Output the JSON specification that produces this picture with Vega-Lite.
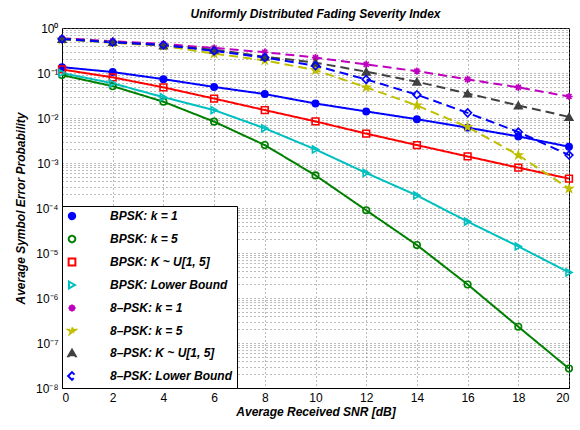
{
  "$schema": "https://vega.github.io/schema/vega-lite/v6.json",
  "autosize": {"type": "none"},
  "width": 507,
  "height": 360,
  "padding": {"left": 62, "top": 28, "right": 11, "bottom": 42},
  "background": "white",
  "title": {"text": "Uniformly Distributed Fading Severity Index", "font": "Liberation Sans", "fontSize": 12, "fontStyle": "italic", "fontWeight": "bold", "offset": 1, "color": "black"},
  "config": {
    "view": {"stroke": "black", "strokeWidth": 1},
    "axis": {"labelFont": "Liberation Sans", "labelFontSize": 12, "labelColor": "black", "titleFont": "Liberation Sans", "titleFontSize": 12, "titleFontStyle": "italic", "titleFontWeight": "bold", "titleColor": "black", "domainColor": "black", "ticks": false, "grid": true, "gridColor": "#777", "gridDash": [1, 3], "gridWidth": 1, "gridOpacity": 1},
    "legend": {"orient": "bottom-left", "offset": 0, "padding": 4, "strokeColor": "black", "fillColor": "white", "labelFont": "Liberation Sans", "labelFontSize": 12, "labelFontWeight": "bold", "labelFontStyle": "italic", "labelColor": "black", "symbolSize": 400, "symbolStrokeWidth": 2, "labelOffset": 32, "rowPadding": 7, "labelLimit": 300}
  },
  "data": {"values": [
    {"x":0,"y":0.135,"s":"BPSK: k = 1"},{"x":2,"y":0.105,"s":"BPSK: k = 1"},{"x":4,"y":0.073,"s":"BPSK: k = 1"},{"x":6,"y":0.049,"s":"BPSK: k = 1"},{"x":8,"y":0.034,"s":"BPSK: k = 1"},{"x":10,"y":0.021,"s":"BPSK: k = 1"},{"x":12,"y":0.014,"s":"BPSK: k = 1"},{"x":14,"y":0.0094,"s":"BPSK: k = 1"},{"x":16,"y":0.0061,"s":"BPSK: k = 1"},{"x":18,"y":0.0039,"s":"BPSK: k = 1"},{"x":20,"y":0.0023,"s":"BPSK: k = 1"},
    {"x":0,"y":0.09,"s":"BPSK: k = 5"},{"x":2,"y":0.051,"s":"BPSK: k = 5"},{"x":4,"y":0.023,"s":"BPSK: k = 5"},{"x":6,"y":0.0083,"s":"BPSK: k = 5"},{"x":8,"y":0.0025,"s":"BPSK: k = 5"},{"x":10,"y":0.00053,"s":"BPSK: k = 5"},{"x":12,"y":0.000089,"s":"BPSK: k = 5"},{"x":14,"y":0.000015,"s":"BPSK: k = 5"},{"x":16,"y":0.000002,"s":"BPSK: k = 5"},{"x":18,"y":2.3e-7,"s":"BPSK: k = 5"},{"x":20,"y":2.7e-8,"s":"BPSK: k = 5"},
    {"x":0,"y":0.12,"s":"BPSK: K ~ U[1, 5]"},{"x":2,"y":0.08,"s":"BPSK: K ~ U[1, 5]"},{"x":4,"y":0.048,"s":"BPSK: K ~ U[1, 5]"},{"x":6,"y":0.027,"s":"BPSK: K ~ U[1, 5]"},{"x":8,"y":0.015,"s":"BPSK: K ~ U[1, 5]"},{"x":10,"y":0.0084,"s":"BPSK: K ~ U[1, 5]"},{"x":12,"y":0.0045,"s":"BPSK: K ~ U[1, 5]"},{"x":14,"y":0.0025,"s":"BPSK: K ~ U[1, 5]"},{"x":16,"y":0.0014,"s":"BPSK: K ~ U[1, 5]"},{"x":18,"y":0.00079,"s":"BPSK: K ~ U[1, 5]"},{"x":20,"y":0.00045,"s":"BPSK: K ~ U[1, 5]"},
    {"x":0,"y":0.1,"s":"BPSK: Lower Bound"},{"x":2,"y":0.059,"s":"BPSK: Lower Bound"},{"x":4,"y":0.029,"s":"BPSK: Lower Bound"},{"x":6,"y":0.015,"s":"BPSK: Lower Bound"},{"x":8,"y":0.0059,"s":"BPSK: Lower Bound"},{"x":10,"y":0.002,"s":"BPSK: Lower Bound"},{"x":12,"y":0.0006,"s":"BPSK: Lower Bound"},{"x":14,"y":0.00019,"s":"BPSK: Lower Bound"},{"x":16,"y":0.00005,"s":"BPSK: Lower Bound"},{"x":18,"y":0.000014,"s":"BPSK: Lower Bound"},{"x":20,"y":0.0000037,"s":"BPSK: Lower Bound"},
    {"x":0,"y":0.59,"s":"8–PSK: k = 1"},{"x":2,"y":0.51,"s":"8–PSK: k = 1"},{"x":4,"y":0.44,"s":"8–PSK: k = 1"},{"x":6,"y":0.36,"s":"8–PSK: k = 1"},{"x":8,"y":0.29,"s":"8–PSK: k = 1"},{"x":10,"y":0.22,"s":"8–PSK: k = 1"},{"x":12,"y":0.155,"s":"8–PSK: k = 1"},{"x":14,"y":0.11,"s":"8–PSK: k = 1"},{"x":16,"y":0.072,"s":"8–PSK: k = 1"},{"x":18,"y":0.048,"s":"8–PSK: k = 1"},{"x":20,"y":0.03,"s":"8–PSK: k = 1"},
    {"x":0,"y":0.56,"s":"8–PSK: k = 5"},{"x":2,"y":0.47,"s":"8–PSK: k = 5"},{"x":4,"y":0.4,"s":"8–PSK: k = 5"},{"x":6,"y":0.27,"s":"8–PSK: k = 5"},{"x":8,"y":0.19,"s":"8–PSK: k = 5"},{"x":10,"y":0.116,"s":"8–PSK: k = 5"},{"x":12,"y":0.048,"s":"8–PSK: k = 5"},{"x":14,"y":0.019,"s":"8–PSK: k = 5"},{"x":16,"y":0.0063,"s":"8–PSK: k = 5"},{"x":18,"y":0.0015,"s":"8–PSK: k = 5"},{"x":20,"y":0.00027,"s":"8–PSK: k = 5"},
    {"x":0,"y":0.57,"s":"8–PSK: K ~ U[1, 5]"},{"x":2,"y":0.49,"s":"8–PSK: K ~ U[1, 5]"},{"x":4,"y":0.41,"s":"8–PSK: K ~ U[1, 5]"},{"x":6,"y":0.33,"s":"8–PSK: K ~ U[1, 5]"},{"x":8,"y":0.23,"s":"8–PSK: K ~ U[1, 5]"},{"x":10,"y":0.17,"s":"8–PSK: K ~ U[1, 5]"},{"x":12,"y":0.107,"s":"8–PSK: K ~ U[1, 5]"},{"x":14,"y":0.064,"s":"8–PSK: K ~ U[1, 5]"},{"x":16,"y":0.035,"s":"8–PSK: K ~ U[1, 5]"},{"x":18,"y":0.019,"s":"8–PSK: K ~ U[1, 5]"},{"x":20,"y":0.0106,"s":"8–PSK: K ~ U[1, 5]"},
    {"x":0,"y":0.57,"s":"8–PSK: Lower Bound"},{"x":2,"y":0.48,"s":"8–PSK: Lower Bound"},{"x":4,"y":0.42,"s":"8–PSK: Lower Bound"},{"x":6,"y":0.31,"s":"8–PSK: Lower Bound"},{"x":8,"y":0.22,"s":"8–PSK: Lower Bound"},{"x":10,"y":0.145,"s":"8–PSK: Lower Bound"},{"x":12,"y":0.072,"s":"8–PSK: Lower Bound"},{"x":14,"y":0.033,"s":"8–PSK: Lower Bound"},{"x":16,"y":0.013,"s":"8–PSK: Lower Bound"},{"x":18,"y":0.0049,"s":"8–PSK: Lower Bound"},{"x":20,"y":0.0015,"s":"8–PSK: Lower Bound"}
  ]},
  "encoding": {
    "x": {"field": "x", "type": "quantitative", "scale": {"domain": [0, 20], "nice": false}, "axis": {"values": [0,2,4,6,8,10,12,14,16,18,20], "title": "Average Received SNR [dB]", "labelPadding": 4, "titlePadding": 3}},
    "y": {"field": "y", "type": "quantitative", "scale": {"type": "log", "domain": [1e-8, 1], "nice": false}, "axis": {"title": "Average Symbol Error Probability", "titlePadding": 8, "labelPadding": 4,
      "values": [1e-8,2e-8,3e-8,4e-8,5e-8,6e-8,7e-8,8e-8,9e-8,1e-7,2e-7,3e-7,4e-7,5e-7,6e-7,7e-7,8e-7,9e-7,1e-6,2e-6,3e-6,4e-6,5e-6,6e-6,7e-6,8e-6,9e-6,1e-5,2e-5,3e-5,4e-5,5e-5,6e-5,7e-5,8e-5,9e-5,1e-4,2e-4,3e-4,4e-4,5e-4,6e-4,7e-4,8e-4,9e-4,0.001,0.002,0.003,0.004,0.005,0.006,0.007,0.008,0.009,0.01,0.02,0.03,0.04,0.05,0.06,0.07,0.08,0.09,0.1,0.2,0.3,0.4,0.5,0.6,0.7,0.8,0.9,1],
      "labelExpr": "abs(log(datum.value)/LN10 - round(log(datum.value)/LN10)) < 0.001 ? '10' + (round(log(datum.value)/LN10) < 0 ? '⁻' : '') + ['⁰','¹','²','³','⁴','⁵','⁶','⁷','⁸'][abs(round(log(datum.value)/LN10))] : ''"}}
  },
  "layer": [
    {
      "mark": {"type": "line", "strokeWidth": 2},
      "encoding": {
        "color": {"field": "s", "type": "nominal", "scale": {"domain": ["BPSK: k = 1","BPSK: k = 5","BPSK: K ~ U[1, 5]","BPSK: Lower Bound","8–PSK: k = 1","8–PSK: k = 5","8–PSK: K ~ U[1, 5]","8–PSK: Lower Bound"], "range": ["#0000ff","#008000","#ff0000","#00bfbf","#bf00bf","#bfbf00","#404040","#0000ff"]}},
        "strokeDash": {"field": "s", "type": "nominal", "scale": {"domain": ["BPSK: k = 1","BPSK: k = 5","BPSK: K ~ U[1, 5]","BPSK: Lower Bound","8–PSK: k = 1","8–PSK: k = 5","8–PSK: K ~ U[1, 5]","8–PSK: Lower Bound"], "range": [[1,0],[1,0],[1,0],[1,0],[9,5],[9,5],[9,5],[9,5]]}}
      }
    },
    {
      "mark": {"type": "point", "strokeWidth": 1.6, "opacity": 1},
      "encoding": {
        "shape": {"field": "s", "type": "nominal",
          "scale": {"domain": ["BPSK: k = 1","BPSK: k = 5","BPSK: K ~ U[1, 5]","BPSK: Lower Bound","8–PSK: k = 1","8–PSK: k = 5","8–PSK: K ~ U[1, 5]","8–PSK: Lower Bound"], "range": ["circle","circle","square","triangle-right","M-1,0H1M0,-1V1M-0.7,-0.7L0.7,0.7M-0.7,0.7L0.7,-0.7","M0,-1L0.225,-0.309L0.951,-0.309L0.363,0.118L0.588,0.809L0,0.382L-0.588,0.809L-0.363,0.118L-0.951,-0.309L-0.225,-0.309Z","triangle-up","diamond"]},
          "legend": {"title": null, "encode": {"symbols": {"update": {
            "shape": {"signal": "['M-0.4,0H3.8M1.3,0A0.4,0.4,0,1,0,2.1,0A0.4,0.4,0,1,0,1.3,0Z','M-0.4,0H3.8M1.3,0A0.4,0.4,0,1,0,2.1,0A0.4,0.4,0,1,0,1.3,0Z','M-0.4,0H3.8M1.3,-0.4H2.1V0.4H1.3Z','M-0.4,0H3.8M1.3,-0.45L2.2,0L1.3,0.45Z','M-0.4,0H0.4M3.0,0H3.8M1.35,0H2.05M1.7,-0.35V0.35M1.45,-0.25L1.95,0.25M1.45,0.25L1.95,-0.25','M-0.4,0H0.4M3.0,0H3.8M1.7,-0.75L1.869,-0.232L2.413,-0.232L1.972,0.089L2.141,0.607L1.7,0.287L1.259,0.607L1.428,0.089L0.987,-0.232L1.531,-0.232Z','M-0.4,0H0.4M3.0,0H3.8M1.7,-0.5L2.2,0.4L1.2,0.4Z','M-0.4,0H0.4M3.0,0H3.8M1.7,-0.55L2.1,0L1.7,0.55L1.3,0Z'][datum.index]"},
            "stroke": {"signal": "['#0000ff','#008000','#ff0000','#00bfbf','#bf00bf','#bfbf00','#404040','#0000ff'][datum.index]"},
            "fill": {"signal": "['#0000ff','transparent','transparent','transparent','#bf00bf','#bfbf00','#404040','transparent'][datum.index]"},
            "size": {"value": 400},
            "strokeWidth": {"value": 2},
            "strokeDash": {"value": [1, 0]},
            "opacity": {"value": 1}
          }}}}},
        "stroke": {"field": "s", "type": "nominal", "scale": {"domain": ["BPSK: k = 1","BPSK: k = 5","BPSK: K ~ U[1, 5]","BPSK: Lower Bound","8–PSK: k = 1","8–PSK: k = 5","8–PSK: K ~ U[1, 5]","8–PSK: Lower Bound"], "range": ["#0000ff","#008000","#ff0000","#00bfbf","#bf00bf","#bfbf00","#404040","#0000ff"]}},
        "fill": {"field": "s", "type": "nominal", "scale": {"domain": ["BPSK: k = 1","BPSK: k = 5","BPSK: K ~ U[1, 5]","BPSK: Lower Bound","8–PSK: k = 1","8–PSK: k = 5","8–PSK: K ~ U[1, 5]","8–PSK: Lower Bound"], "range": ["#0000ff","transparent","transparent","transparent","#bf00bf","#bfbf00","#404040","transparent"]}},
        "size": {"field": "s", "type": "ordinal", "scale": {"domain": ["BPSK: k = 1","BPSK: k = 5","BPSK: K ~ U[1, 5]","BPSK: Lower Bound","8–PSK: k = 1","8–PSK: k = 5","8–PSK: K ~ U[1, 5]","8–PSK: Lower Bound"], "range": [40,60,55,80,45,230,90,70]}}
      }
    }
  ]
}
